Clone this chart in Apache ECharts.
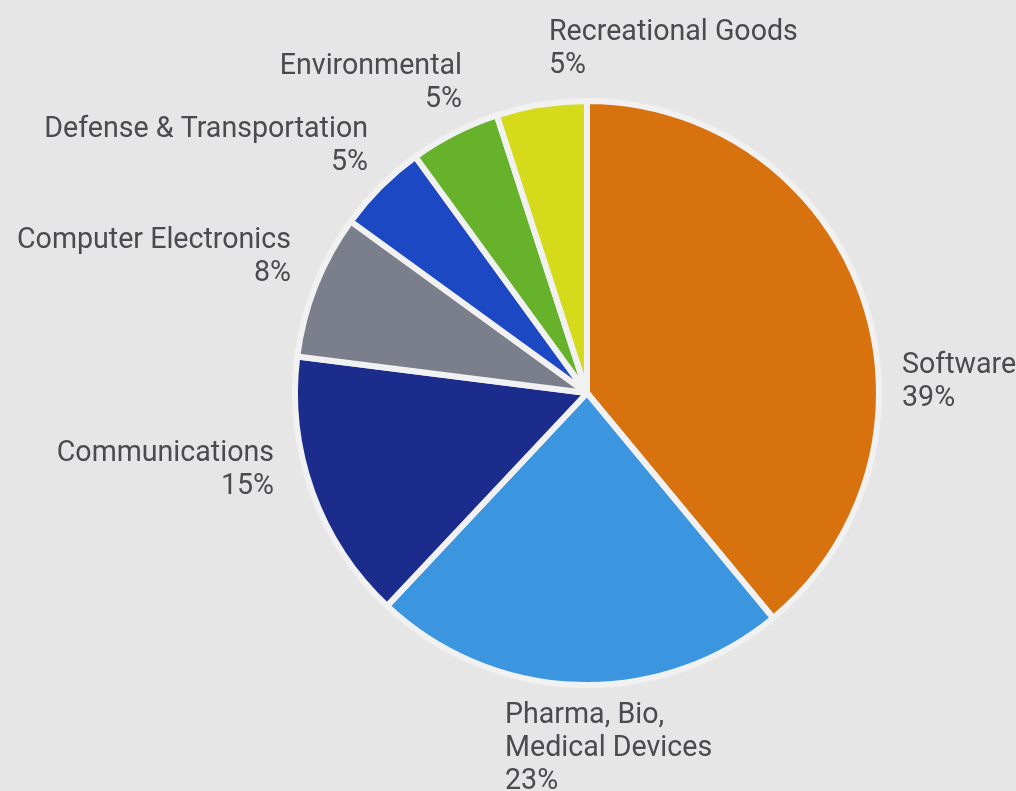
<!DOCTYPE html>
<html>
<head>
<meta charset="utf-8">
<script src="https://cdn.jsdelivr.net/npm/echarts@6/dist/echarts.min.js"></script>
<style>
  html, body { margin: 0; padding: 0; background: #e6e6e6; }
  #chart { width: 1016px; height: 791px; }
</style>
</head>
<body>
<div id="chart"></div>
<script>
// Sector names (clockwise from 12 o'clock) and their shares in percent
const sectors = [
  'Software',
  'Pharma, Bio,\nMedical Devices',
  'Communications',
  'Computer Electronics',
  'Defense & Transportation',
  'Environmental',
  'Recreational Goods'
];
const shares = [39, 23, 15, 8, 5, 5, 5];
const sectorColors = ['#d8720e', '#3c95df', '#1b2c8c', '#7b7f8b', '#1d48c4', '#67b22b', '#d5da1b'];

// Label anchors: x, vertical middle of the text block, and alignment
const labelAnchors = [
  { x: 902, y: 382, align: 'left' },
  { x: 505, y: 749, align: 'left' },
  { x: 274, y: 470, align: 'right' },
  { x: 291, y: 257, align: 'right' },
  { x: 368, y: 146, align: 'right' },
  { x: 462, y: 83,  align: 'right' },
  { x: 549, y: 49,  align: 'left' }
];

const chart = echarts.init(document.getElementById('chart'), null, { renderer: 'canvas' });

chart.setOption({
  backgroundColor: '#e6e6e6',
  animation: false,
  series: [{
    type: 'pie',
    center: [587, 393],
    radius: [0, 292],
    startAngle: 90,
    clockwise: true,
    data: sectors.map((name, i) => ({
      name: name,
      value: shares[i],
      itemStyle: { color: sectorColors[i] }
    })),
    itemStyle: { borderColor: '#f1f1f1', borderWidth: 6 },
    label: {
      show: true,
      position: 'outside',
      color: '#4a4a4f',
      fontFamily: 'Roboto',
      fontSize: 28.6,
      lineHeight: 33,
      overflow: 'none',
      width: 400,
      formatter: p => p.name + '\n' + p.value + '%'
    },
    labelLine: { show: false },
    labelLayout: p => {
      const a = labelAnchors[p.dataIndex];
      return { x: a.x, y: a.y, align: a.align, verticalAlign: 'middle', hideOverlap: false };
    },
    emphasis: { disabled: true }
  }]
});
</script>
</body>
</html>
